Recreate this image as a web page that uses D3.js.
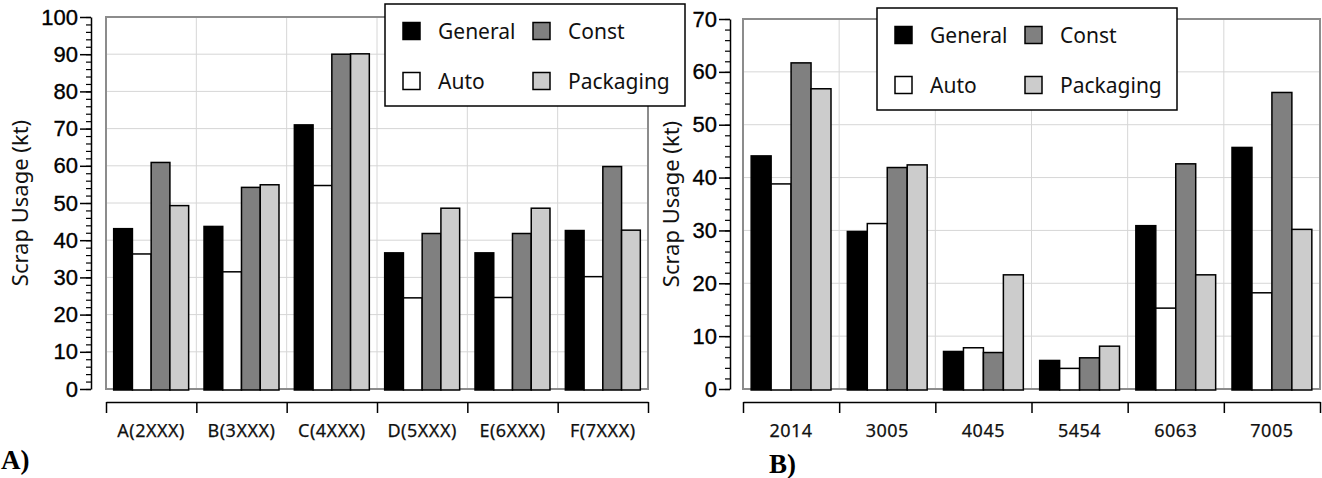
<!DOCTYPE html>
<html>
<head>
<meta charset="utf-8">
<script src="https://cdn.jsdelivr.net/npm/d3@7"></script>
<style>
  body { margin: 0; background: #fff; }
  svg { display: block; font-family: "Noto Sans", sans-serif; }
  .grid line { stroke: #d6d6d6; stroke-width: 1; }
  .frame { fill: none; stroke: #8c8c8c; stroke-width: 2; }
  .axis path, .axis line { stroke: #000; stroke-width: 1.5; }
  .axis text { fill: #000; }
</style>
</head>
<body>
<div id="chart"></div>
<script>
// series, in bar order
const seriesNames = ['General', 'Auto', 'Const', 'Packaging'];
const seriesFill = ['#000000', '#ffffff', '#808080', '#cccccc'];
// legend is laid out in two rows
const legendRows = [['General', 'Const'], ['Auto', 'Packaging']];

// panel A: alloy series
const categoriesA = ['A(2XXX)', 'B(3XXX)', 'C(4XXX)', 'D(5XXX)', 'E(6XXX)', 'F(7XXX)'];
const generalA   = [43.1, 43.7, 71.0, 36.6, 36.6, 42.6];
const autoA      = [36.3, 31.5, 54.7, 24.5, 24.6, 30.2];
const constA     = [60.9, 54.2, 90.0, 41.8, 41.8, 59.8];
const packagingA = [49.3, 54.9, 90.1, 48.6, 48.6, 42.7];
const yTicksA = [0, 10, 20, 30, 40, 50, 60, 70, 80, 90, 100];

// panel B: alloys
const categoriesB = ['2014', '3005', '4045', '5454', '6063', '7005'];
const generalB   = [44.1, 29.8, 7.1, 5.4, 30.9, 45.7];
const autoB      = [38.8, 31.3, 7.8, 3.9, 15.3, 18.2];
const constB     = [61.7, 41.9, 6.9, 5.9, 42.6, 56.1];
const packagingB = [56.8, 42.4, 21.6, 8.1, 21.6, 30.2];
const yTicksB = [0, 10, 20, 30, 40, 50, 60, 70];

const yLabel = 'Scrap Usage (kt)';

const svg = d3.select('#chart').append('svg')
    .attr('width', 1322)
    .attr('height', 478);

function drawPanel(cfg) {
    const g = svg.append('g');

    const y = d3.scaleLinear()
        .domain([0, d3.max(cfg.ticks)])
        .range([cfg.bottom, cfg.top]);

    const x = d3.scaleBand()
        .domain(cfg.categories)
        .range([cfg.left, cfg.right])
        .paddingInner(0.17)
        .paddingOuter(0.085);

    const xs = d3.scaleBand()
        .domain(seriesNames)
        .range([0, x.bandwidth()])
        .padding(0);

    // category boundaries (0..n)
    const xEdge = d3.scaleLinear()
        .domain([0, cfg.categories.length])
        .range([cfg.left, cfg.right]);

    // grid
    const grid = g.append('g').attr('class', 'grid');
    grid.selectAll('.h')
        .data(cfg.ticks)
        .join('line')
        .attr('x1', cfg.left).attr('x2', cfg.right)
        .attr('y1', d => y(d)).attr('y2', d => y(d));
    grid.selectAll('.v')
        .data(d3.range(1, cfg.categories.length))
        .join('line')
        .attr('x1', d => xEdge(d)).attr('x2', d => xEdge(d))
        .attr('y1', cfg.top).attr('y2', cfg.bottom);

    g.append('rect')
        .attr('class', 'frame')
        .attr('x', cfg.left)
        .attr('y', cfg.top)
        .attr('width', cfg.right - cfg.left)
        .attr('height', cfg.bottom - cfg.top);

    // bars
    const rows = cfg.categories.map((c, i) => ({
        cat: c,
        vals: seriesNames.map((s, j) => ({ s: s, j: j, v: cfg.values[j][i] }))
    }));

    g.selectAll('.group')
        .data(rows)
        .join('g')
        .attr('class', 'group')
        .attr('transform', d => `translate(${x(d.cat)},0)`)
        .selectAll('rect')
        .data(d => d.vals)
        .join('rect')
        .attr('x', d => xs(d.s))
        .attr('y', d => y(d.v))
        .attr('width', xs.bandwidth())
        .attr('height', d => y(0) - y(d.v) + 1)
        .attr('fill', d => seriesFill[d.j])
        .attr('stroke', '#000')
        .attr('stroke-width', 1.5);

    // y axis: major + minor ticks
    const yAxis = g.append('g')
        .attr('class', 'axis')
        .attr('transform', `translate(${cfg.axisX},0)`)
        .call(d3.axisLeft(y).tickValues(cfg.ticks).tickSize(11).tickSizeOuter(0).tickPadding(2));
    yAxis.selectAll('text')
        .style('font-size', '22px')
        .attr('stroke', '#000')
        .attr('stroke-width', 0.35);

    g.append('g')
        .attr('class', 'axis')
        .attr('transform', `translate(${cfg.axisX},0)`)
        .call(d3.axisLeft(y).tickValues(d3.range(0, d3.max(cfg.ticks) + 1, 2)).tickSize(5).tickFormat(''))
        .call(a => a.select('.domain').remove())
        .selectAll('line').style('stroke-width', 1.2);

    // x axis, separate from the plot
    g.append('g')
        .attr('class', 'axis')
        .attr('transform', `translate(0,${cfg.xAxisY})`)
        .call(d3.axisBottom(xEdge).tickValues(d3.range(0, cfg.categories.length + 1)).tickSize(11).tickSizeOuter(0).tickFormat(''));

    g.append('g')
        .selectAll('text')
        .data(cfg.categories)
        .join('text')
        .attr('x', d => xEdge(cfg.categories.indexOf(d) + 0.5))
        .attr('y', cfg.xAxisY + 35)
        .attr('text-anchor', 'middle')
        .style('font-size', '18px')
        .style('letter-spacing', '0.5px')
        .attr('fill', '#111')
        .attr('stroke', '#111')
        .attr('stroke-width', 0.25)
        .text(d => d);

    // axis title
    g.append('text')
        .attr('transform', `translate(${cfg.titleX},${(cfg.top + cfg.bottom) / 2}) rotate(-90)`)
        .attr('text-anchor', 'middle')
        .style('font-size', '22px')
        .attr('fill', '#111')
        .text(yLabel);

    // legend
    const lg = g.append('g')
        .attr('transform', `translate(${cfg.legend[0]},${cfg.legend[1]})`);
    lg.append('rect')
        .attr('width', 300)
        .attr('height', 102)
        .attr('fill', '#fff')
        .attr('stroke', '#000')
        .attr('stroke-width', 1.5);
    legendRows.forEach((row, r) => {
        row.forEach((name, c) => {
            const cx = c === 0 ? 18 : 148;
            const cy = r === 0 ? 27 : 77;
            lg.append('rect')
                .attr('x', cx)
                .attr('y', cy - 8.5)
                .attr('width', 17)
                .attr('height', 17)
                .attr('fill', seriesFill[seriesNames.indexOf(name)])
                .attr('stroke', '#000')
                .attr('stroke-width', 1.5);
            lg.append('text')
                .attr('x', cx + 35)
                .attr('y', cy)
                .attr('dy', '0.36em')
                .style('font-size', '21px')
                .attr('fill', '#111')
                .text(name);
        });
    });

    // panel letter
    svg.append('text')
        .attr('x', cfg.letter[0])
        .attr('y', cfg.letter[1])
        .style('font-family', '"Liberation Serif", serif')
        .style('font-weight', 'bold')
        .style('font-size', '27px')
        .text(cfg.letterText);
}

drawPanel({
    categories: categoriesA,
    values: [generalA, autoA, constA, packagingA],
    ticks: yTicksA,
    axisX: 91, left: 106, right: 648, top: 17, bottom: 389,
    xAxisY: 402, titleX: 28,
    legend: [385, 4],
    letter: [1, 469], letterText: 'A)'
});

drawPanel({
    categories: categoriesB,
    values: [generalB, autoB, constB, packagingB],
    ticks: yTicksB,
    axisX: 730, left: 743, right: 1320, top: 19, bottom: 389,
    xAxisY: 402, titleX: 679,
    legend: [877, 8],
    letter: [769, 473], letterText: 'B)'
});
</script>
</body>
</html>
